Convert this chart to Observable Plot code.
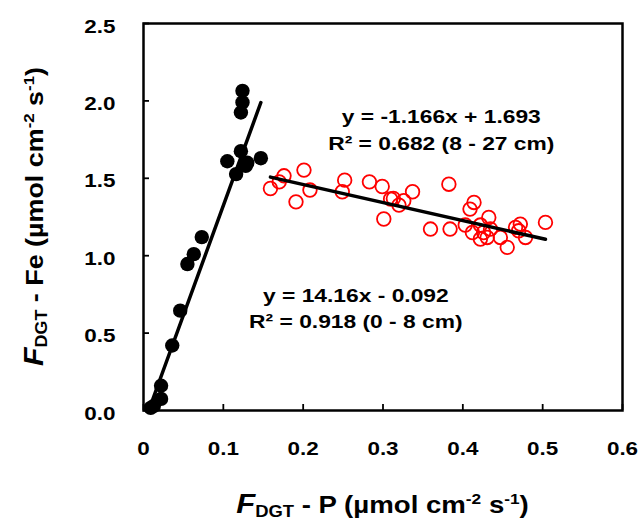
<!DOCTYPE html>
<html><head><meta charset="utf-8">
<script src="https://cdn.jsdelivr.net/npm/d3@7"></script>
<script src="https://cdn.jsdelivr.net/npm/@observablehq/plot@0.6"></script>
<style>body{margin:0;background:#fff} svg{display:block}</style>
</head><body><div id="chart"></div>
<script>
// 0 - 8 cm (black, filled)
const blackP  = [0.009, 0.013, 0.022, 0.022, 0.036, 0.046, 0.055, 0.063, 0.073, 0.105, 0.116, 0.122, 0.128, 0.130, 0.147, 0.122, 0.124, 0.124];
const blackFe = [0.017, 0.030, 0.075, 0.160, 0.420, 0.645, 0.946, 1.010, 1.120, 1.610, 1.527, 1.675, 1.580, 1.600, 1.630, 1.925, 1.990, 2.065];
// 8 - 27 cm (red, open)
const redP  = [0.159, 0.170, 0.176, 0.201, 0.191, 0.2085, 0.252, 0.249, 0.283, 0.299, 0.3095, 0.313, 0.320, 0.326, 0.337, 0.301, 0.3825, 0.3595, 0.384, 0.414, 0.409, 0.4325, 0.403, 0.412, 0.422, 0.426, 0.422, 0.4305, 0.4347, 0.447, 0.4556, 0.466, 0.472, 0.470, 0.4785, 0.5035];
const redFe = [1.434, 1.477, 1.516, 1.553, 1.348, 1.424, 1.488, 1.413, 1.477, 1.447, 1.366, 1.370, 1.327, 1.355, 1.413, 1.237, 1.462, 1.172, 1.172, 1.344, 1.301, 1.247, 1.198, 1.150, 1.198, 1.150, 1.108, 1.118, 1.172, 1.118, 1.054, 1.183, 1.204, 1.161, 1.118, 1.215];
// regression fits
const fitSlopes = [14.16, -1.166];
const fitIntercepts = [-0.092, 1.693];
// equation labels (anchor in data units)
const eqText = ["y = -1.166x + 1.693", "R² = 0.682 (8 - 27 cm)", "y = 14.16x - 0.092", "R² = 0.918 (0 - 8 cm)"];
const eqX = [0.373, 0.373, 0.266, 0.266];
const eqY = [1.860, 1.684, 0.703, 0.531];
const xTicks = [0, 0.1, 0.2, 0.3, 0.4, 0.5, 0.6];
const yTicks = [0, 0.5, 1.0, 1.5, 2.0, 2.5];

const black = blackP.map((p, i) => ({p, fe: blackFe[i]}));
const red = redP.map((p, i) => ({p, fe: redFe[i]}));
const groups = [black, red];
const fitLines = groups.map((g, k) => {
  const [x0, x1] = d3.extent(g, d => d.p);
  return [x0, x1].map(x => ({p: x, fe: fitSlopes[k] * x + fitIntercepts[k], k}));
}).flat();
const eqs = eqText.map((t, i) => ({t, x: eqX[i], y: eqY[i]}));

const W = 641, H = 522, ML = 143, MR = 19, MT = 23, MB = 112;
const FONT = "'Liberation Sans', Arial, Helvetica, sans-serif";

const chart = Plot.plot({
  width: W, height: H,
  marginLeft: ML, marginRight: MR, marginTop: MT, marginBottom: MB,
  style: {fontFamily: FONT, background: "white"},
  x: {domain: [0, 0.6]},
  y: {domain: [0, 2.5]},
  marks: [
    Plot.axisX({ticks: xTicks, tickSize: 6, dy: -6, fill: "none", stroke: "black", strokeWidth: 1.8}),
    Plot.axisX({ticks: xTicks, tickSize: 0, tickPadding: 31, tickFormat: d => d === 0 ? "0" : d.toFixed(1), fontSize: 19, fontWeight: "bold", fill: "black", label: null}),
    Plot.axisY({ticks: yTicks, tickSize: 6, dx: 6, fill: "none", stroke: "black", strokeWidth: 1.8}),
    Plot.axisY({ticks: yTicks, tickSize: 0, tickPadding: 28, dy: 3, tickFormat: d => d.toFixed(1), fontSize: 19, fontWeight: "bold", fill: "black", label: null}),
    Plot.frame({stroke: "black", strokeWidth: 2.5}),
    Plot.dot(red, {x: "p", y: "fe", r: 6.8, stroke: "#ff0000", strokeWidth: 1.8, fill: "none"}),
    Plot.dot(black, {x: "p", y: "fe", r: 7.2, fill: "black", stroke: "none"}),
    Plot.line(fitLines, {x: "p", y: "fe", z: "k", stroke: "black", strokeWidth: 3.5}),
    Plot.text(eqs, {x: "x", y: "y", text: "t", textAnchor: "middle", lineAnchor: "bottom", fontSize: 19, fontWeight: "bold", fill: "black"})
  ]
});
document.getElementById("chart").appendChild(chart);

const svg = d3.select(chart);
// axis titles with subscript/superscripts
function title(sel, letter) {
  sel.attr("font-family", FONT).attr("font-weight", "bold").attr("font-size", 24).attr("text-anchor", "middle").attr("fill", "black");
  sel.append("tspan").attr("font-style", "italic").attr("font-size", 27).text("F");
  sel.append("tspan").attr("font-size", 16).attr("dy", 4).text("DGT");
  sel.append("tspan").attr("dy", -4).text(" - " + letter + " (µmol cm");
  sel.append("tspan").attr("font-size", 15).attr("dy", -9).text("-2");
  sel.append("tspan").attr("dy", 9).text(" s");
  sel.append("tspan").attr("font-size", 15).attr("dy", -9).text("-1");
  sel.append("tspan").attr("dy", 9).text(")");
  return sel;
}
const plotCx = ML + (W - ML - MR) / 2, plotCy = MT + (H - MT - MB) / 2;
const xt = title(svg.append("text").attr("x", plotCx).attr("y", H - 9), "P");
const yt = title(svg.append("text").attr("transform", `translate(43,${plotCy}) rotate(-90)`), "Fe");

function widen(el, f) {
  const n = el.getComputedTextLength();
  el.setAttribute("textLength", (n * f).toFixed(1));
  el.setAttribute("lengthAdjust", "spacingAndGlyphs");
}
svg.selectAll("g[aria-label='x-axis tick label'] text, g[aria-label='y-axis tick label'] text").each(function() { widen(this, 1.18); });
svg.selectAll("g[aria-label='text'] text").each(function() { widen(this, 1.2); });
widen(xt.node(), 1.15);
widen(yt.node(), 1.12);
</script></body></html>
